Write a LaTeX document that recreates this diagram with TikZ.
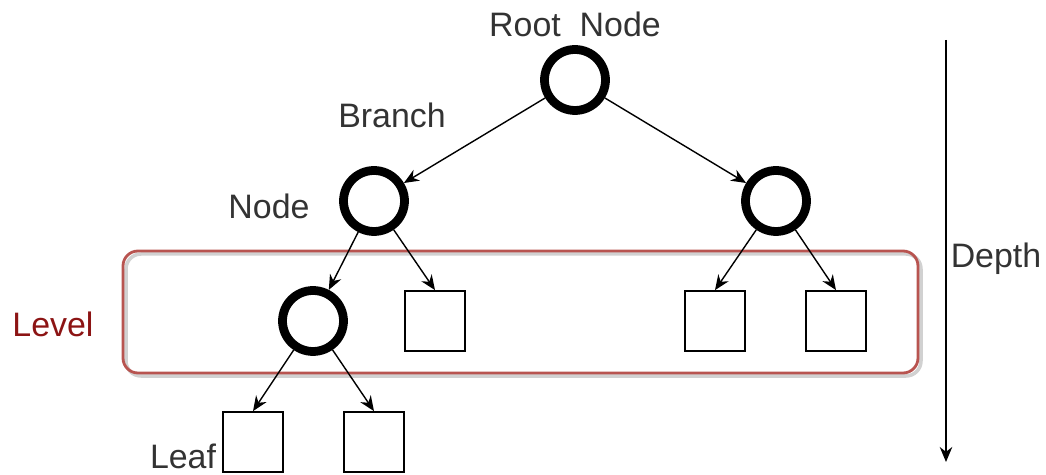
\documentclass[tikz,border=0pt]{standalone}
\usepackage{fontspec}
\setmainfont{Liberation Sans}
\usetikzlibrary{arrows.meta,positioning}

\definecolor{levelred}{RGB}{184,84,80}
\definecolor{leveltext}{RGB}{140,20,20}

\begin{document}
\begin{tikzpicture}[
    x=0.02cm, y=-0.02cm,
    tnode/.style={circle, draw, line width=5pt, minimum size=1.22cm, inner sep=0pt},
    leafbox/.style={rectangle, draw, line width=1pt, minimum size=1.2cm, inner sep=0pt},
    link/.style={-{Stealth[length=3mm, width=2.5mm]}, line width=0.8pt},
    lbl/.style={font=\fontsize{19.3pt}{22pt}\selectfont, text=black!80, inner sep=0pt, anchor=base}
]
\useasboundingbox (0,0) rectangle (1046,475);
% level band
\draw[black!18, line width=2pt, rounded corners=0.3cm] (126,254) rectangle (921,376);
\draw[levelred, line width=1.6pt, rounded corners=0.3cm] (123,251) rectangle (918,373);
% tree
\node[tnode] (root) at (575,80) {};
\node[tnode] (lnode) at (374,201) {};
\node[tnode] (rnode) at (776,201) {};
\node[tnode] (mid) at (313,321) {};
\node[leafbox] (sqa) at (435,321) {};
\node[leafbox] (sqb) at (715,321) {};
\node[leafbox] (sqc) at (836,321) {};
\node[leafbox] (leafa) at (253,442) {};
\node[leafbox] (leafb) at (374,442) {};
\draw[link] (root) -- (lnode);
\draw[link] (root) -- (rnode);
\draw[link] (lnode) -- (mid);
\draw[link] (lnode) -- (sqa.north);
\draw[link] (rnode) -- (sqb.north);
\draw[link] (rnode) -- (sqc.north);
\draw[link] (mid) -- (leafa.north);
\draw[link] (mid) -- (leafb.north);
% labels
\node[lbl] (rootlbl) at (575,37) {Root\ \ Node};
\node[lbl] (branchlbl) at (392,128) {Branch};
\node[lbl] (nodelbl) at (269,219) {Node};
\node[lbl, text=leveltext] (levellbl) at (53,337) {Level};
\node[lbl] (leaflbl) at (183,469) {Leaf};
\node[lbl] (depthlbl) at (996,268) {Depth};
% depth axis
\coordinate (dtop) at (946,40);
\coordinate (dbot) at (946,462);
\draw[-{Stealth[length=3mm, width=2.5mm]}, line width=0.8pt] (dtop) -- (dbot);
\end{tikzpicture}
\end{document}
